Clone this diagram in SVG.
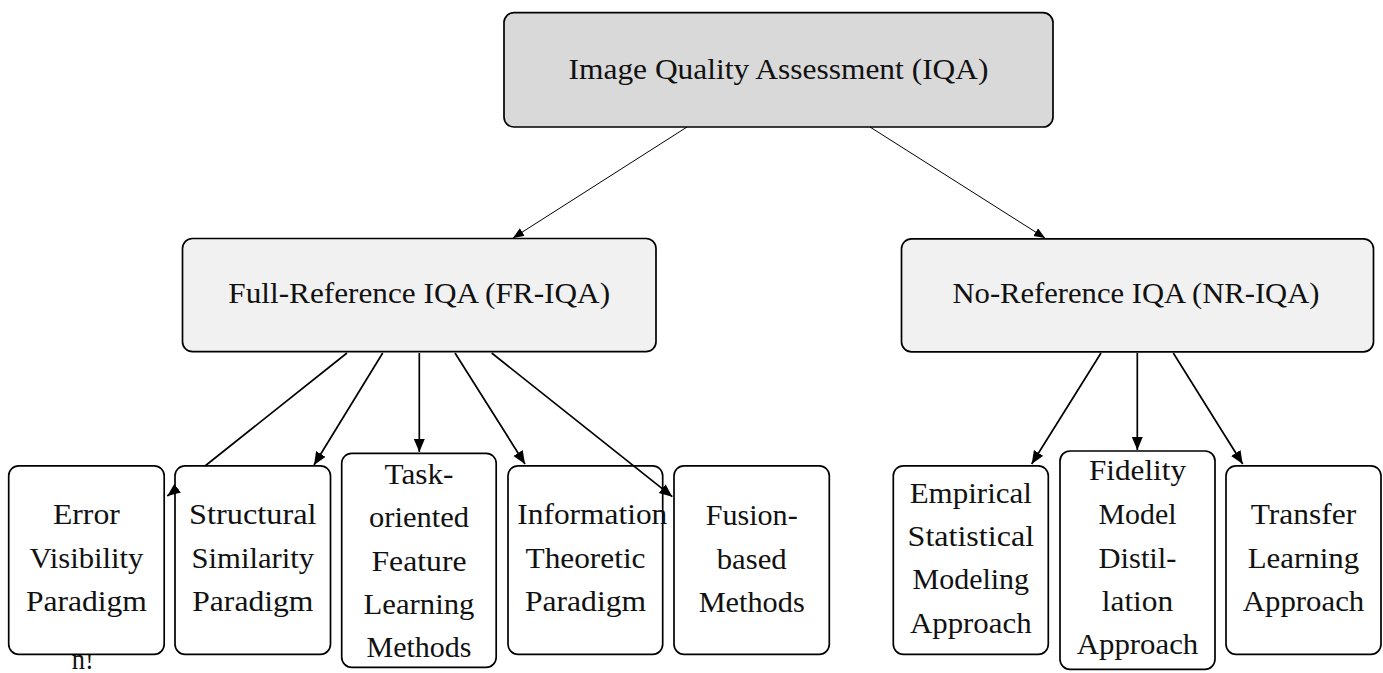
<svg xmlns="http://www.w3.org/2000/svg" width="1383" height="673" viewBox="0 0 1383 673">
<style>
.box{stroke:#000;stroke-width:1.7}
.root{fill:#d9d9d9}
.mid{fill:#f1f1f1}
.leaf{fill:#fff}
.t{font-family:'Liberation Serif','Times New Roman',Times,serif;font-size:28.8px;fill:#111;text-anchor:middle}
.thin{stroke:#000;stroke-width:1;fill:none}
.thick{stroke:#000;stroke-width:1.7;fill:none}
</style>
<defs>
<marker id="ahs" markerUnits="userSpaceOnUse" markerWidth="12" markerHeight="10" refX="11" refY="4.5" orient="auto"><path d="M0,0 L11,4.5 L0,9 Z" fill="#000"/></marker>
<marker id="ahb" markerUnits="userSpaceOnUse" markerWidth="14" markerHeight="12" refX="13" refY="5.5" orient="auto"><path d="M0,0 L13,5.5 L0,11 Z" fill="#000"/></marker>
</defs>
<rect width="1383" height="673" fill="#fff"/>
<g class="t" font-family="Liberation Serif, serif">
<text x="71.7" y="669" textLength="22" lengthAdjust="spacingAndGlyphs" style="text-anchor:start">n!</text>
</g>
<g id="nodes" class="t" font-family="Liberation Serif, serif">
<g id="iqa">
<rect class="box root" x="504" y="12.6" width="549" height="114.4" rx="10"/>
<text x="778.5" y="79" textLength="420" lengthAdjust="spacingAndGlyphs">Image Quality Assessment (IQA)</text>
</g>
<g id="fr">
<rect class="box mid" x="182.5" y="238.5" width="473.5" height="113.2" rx="10"/>
<text x="419.2" y="302.7" textLength="381.7" lengthAdjust="spacingAndGlyphs">Full-Reference IQA (FR-IQA)</text>
</g>
<g id="nr">
<rect class="box mid" x="901.5" y="238.8" width="472" height="113" rx="10"/>
<text x="1136" y="302.7" textLength="367" lengthAdjust="spacingAndGlyphs">No-Reference IQA (NR-IQA)</text>
</g>
<g id="error">
<rect class="box leaf" x="8.7" y="465.8" width="155.5" height="188.5" rx="10"/>
<text x="86.4" y="523.5" textLength="67" lengthAdjust="spacingAndGlyphs">Error</text>
<text x="86.4" y="567.5" textLength="114" lengthAdjust="spacingAndGlyphs">Visibility</text>
<text x="86.4" y="611" textLength="121" lengthAdjust="spacingAndGlyphs">Paradigm</text>
</g>
<g id="structural">
<rect class="box leaf" x="175" y="465.8" width="155.5" height="188.5" rx="10"/>
<text x="252.8" y="523.5" textLength="127.5" lengthAdjust="spacingAndGlyphs">Structural</text>
<text x="252.8" y="567.5" textLength="122.5" lengthAdjust="spacingAndGlyphs">Similarity</text>
<text x="252.8" y="611" textLength="121" lengthAdjust="spacingAndGlyphs">Paradigm</text>
</g>
<g id="task">
<rect class="box leaf" x="341.7" y="453.3" width="154.5" height="214" rx="10"/>
<text x="419" y="483.5" textLength="69" lengthAdjust="spacingAndGlyphs">Task-</text>
<text x="419" y="527" textLength="100" lengthAdjust="spacingAndGlyphs">oriented</text>
<text x="419" y="570.5" textLength="95" lengthAdjust="spacingAndGlyphs">Feature</text>
<text x="419" y="614" textLength="110.8" lengthAdjust="spacingAndGlyphs">Learning</text>
<text x="419" y="657" textLength="105" lengthAdjust="spacingAndGlyphs">Methods</text>
</g>
<g id="information">
<rect class="box leaf" x="508" y="465.8" width="154.7" height="188.5" rx="10"/>
<text x="592.3" y="523.5" textLength="150" lengthAdjust="spacingAndGlyphs">Information</text>
<text x="585.5" y="567.5" textLength="120" lengthAdjust="spacingAndGlyphs">Theoretic</text>
<text x="585.5" y="611" textLength="121" lengthAdjust="spacingAndGlyphs">Paradigm</text>
</g>
<g id="fusion">
<rect class="box leaf" x="674" y="465.8" width="155.3" height="188.5" rx="10"/>
<text x="751.7" y="524.5" textLength="92" lengthAdjust="spacingAndGlyphs">Fusion-</text>
<text x="751.7" y="568.5" textLength="70" lengthAdjust="spacingAndGlyphs">based</text>
<text x="751.7" y="612" textLength="106" lengthAdjust="spacingAndGlyphs">Methods</text>
</g>
<g id="empirical">
<rect class="box leaf" x="893.3" y="465.8" width="155" height="188.5" rx="10"/>
<text x="970.8" y="502.5" textLength="122.2" lengthAdjust="spacingAndGlyphs">Empirical</text>
<text x="970.8" y="545.5" textLength="126.5" lengthAdjust="spacingAndGlyphs">Statistical</text>
<text x="970.8" y="589" textLength="116.5" lengthAdjust="spacingAndGlyphs">Modeling</text>
<text x="970.8" y="632.5" textLength="121.5" lengthAdjust="spacingAndGlyphs">Approach</text>
</g>
<g id="fidelity">
<rect class="box leaf" x="1060" y="451" width="155" height="218.3" rx="10"/>
<text x="1137.5" y="480" textLength="97" lengthAdjust="spacingAndGlyphs">Fidelity</text>
<text x="1137.5" y="524" textLength="78" lengthAdjust="spacingAndGlyphs">Model</text>
<text x="1137.5" y="568" textLength="78" lengthAdjust="spacingAndGlyphs">Distil-</text>
<text x="1137.5" y="611" textLength="71.5" lengthAdjust="spacingAndGlyphs">lation</text>
<text x="1137.5" y="654" textLength="121.5" lengthAdjust="spacingAndGlyphs">Approach</text>
</g>
<g id="transfer">
<rect class="box leaf" x="1226" y="465.8" width="155" height="188.5" rx="10"/>
<text x="1303.5" y="523.5" textLength="105.5" lengthAdjust="spacingAndGlyphs">Transfer</text>
<text x="1303.5" y="567.5" textLength="111.5" lengthAdjust="spacingAndGlyphs">Learning</text>
<text x="1303.5" y="611" textLength="121.5" lengthAdjust="spacingAndGlyphs">Approach</text>
</g>
</g>
<g id="connectors">
<path class="thin" d="M687,127 L513,238" marker-end="url(#ahs)"/>
<path class="thin" d="M870,127 L1045,238" marker-end="url(#ahs)"/>
<path class="thick" d="M347,353 L205,466 M176,489.4 L167.3,496" marker-end="url(#ahb)"/>
<path class="thick" d="M382.7,353 L314,465" marker-end="url(#ahb)"/>
<path class="thick" d="M419.3,353 L419.3,452" marker-end="url(#ahb)"/>
<path class="thick" d="M455,353 L525,464" marker-end="url(#ahb)"/>
<path class="thick" d="M491.7,353 L672.3,496.7" marker-end="url(#ahb)"/>
<path class="thick" d="M1101,353 L1031.7,464" marker-end="url(#ahb)"/>
<path class="thick" d="M1137.3,353 L1137.3,450" marker-end="url(#ahb)"/>
<path class="thick" d="M1173.3,353 L1242.7,464" marker-end="url(#ahb)"/>
</g>
</svg>
